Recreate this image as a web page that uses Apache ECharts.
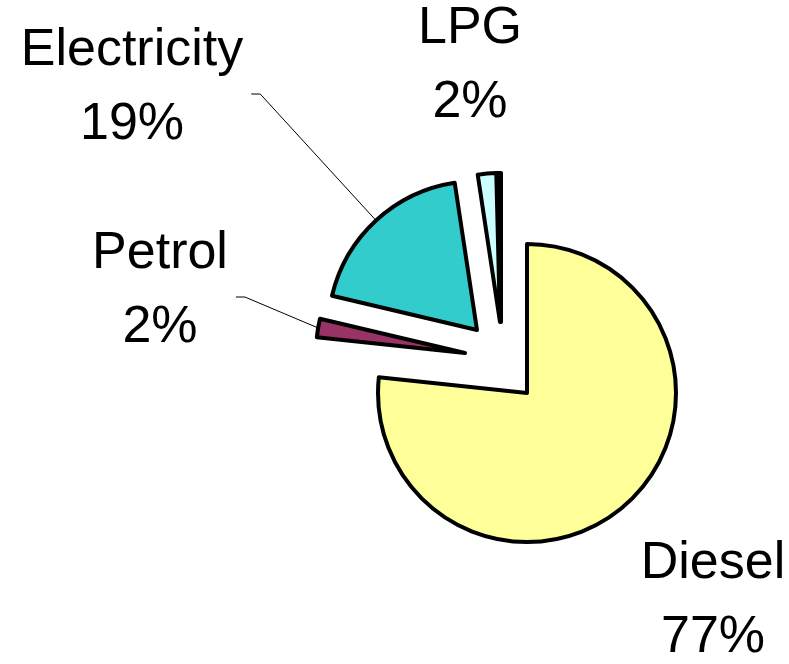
<!DOCTYPE html>
<html>
<head>
<meta charset="utf-8">
<script src="https://cdn.jsdelivr.net/npm/echarts@6/dist/echarts.min.js"></script>
<style>
  html, body { margin: 0; padding: 0; background: #fff; }
  #chart { width: 789px; height: 664px; }
</style>
</head>
<body>
<div id="chart"></div>
<script>
// energy use by fuel (shares in %)
const fuels = ['Diesel', 'Petrol', 'Electricity', 'LPG', 'Other'];
const shares = [77, 2, 19, 2, 0.4];

const colors = ['#FFFF99', '#993366', '#33CCCC', '#CCFFFF', '#000000'];
// every slice gets its own series, so each one can be pulled out by its own amount
const centers = [[527, 393], [465, 353], [477, 330], [500, 322], [501, 322]];
const labelPos = [[713, 601], [160, 291], [132, 88], [470, 66], null];
const withLeader = [false, true, true, false, false];

const chart = echarts.init(document.getElementById('chart'));

const series = fuels.map((name, i) => ({
  type: 'pie',
  center: centers[i],
  radius: [0, 149],
  startAngle: 90,
  avoidLabelOverlap: false,
  silent: true,
  animation: false,
  data: fuels.map((n, j) => {
    const on = j === i;
    return {
      name: n,
      value: shares[j],
      itemStyle: on
        ? { color: colors[j], borderColor: '#000', borderWidth: 4, borderJoin: 'round' }
        : { color: 'rgba(0,0,0,0)', borderWidth: 0 },
      label: { show: on && labelPos[j] != null },
      labelLine: { show: on && withLeader[j] }
    };
  }),
  label: {
    position: 'outside',
    formatter: p => '{t|' + p.name + '}\n{t|' + Math.round(p.percent) + '%}',
    rich: {
      t: {
        fontFamily: '"Liberation Sans", Arial, sans-serif',
        fontSize: 52,
        lineHeight: 74,
        color: '#000',
        align: 'center'
      }
    }
  },
  labelLine: {
    length: 20,
    length2: 10,
    lineStyle: { color: '#000', width: 1 }
  },
  labelLayout: params => {
    const pos = labelPos[i];
    if (params.dataIndex !== i || !pos) return {};
    const out = { x: pos[0], y: pos[1], align: 'center', verticalAlign: 'middle' };
    if (withLeader[i] && params.labelLinePoints) {
      const right = pos[0] + params.labelRect.width / 2;
      out.labelLinePoints = [
        params.labelLinePoints[0],
        [right + 17, pos[1] + 6],
        [right + 8, pos[1] + 6]
      ];
    }
    return out;
  }
}));

chart.setOption({
  backgroundColor: '#fff',
  series: series
});

window.addEventListener('resize', () => {
  chart.resize();
});
</script>
</body>
</html>
